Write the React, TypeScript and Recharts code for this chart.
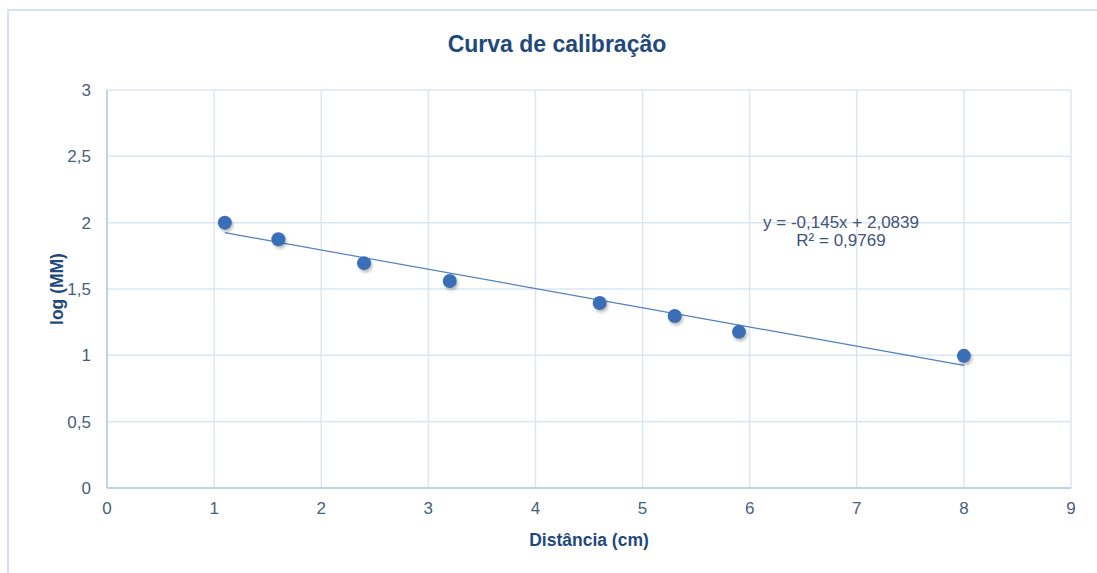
import React from 'react';
import {
  ScatterChart,
  Scatter,
  XAxis,
  YAxis,
  CartesianGrid,
  Label,
} from 'recharts';

const distances = [1.1, 1.6, 2.4, 3.2, 4.6, 5.3, 5.9, 8.0];
const logMM = [2.0, 1.875, 1.695, 1.56, 1.395, 1.296, 1.177, 0.996];

// trendline from the equation shown on the chart: y = -0,145x + 2,0839
const trendSlope = -0.145;
const trendIntercept = 2.0839;
const trendX = [1.1, 8.0];

const xTicks = [0, 1, 2, 3, 4, 5, 6, 7, 8, 9];
const yTicks = [0, 0.5, 1, 1.5, 2, 2.5, 3];

const equationText = 'y = -0,145x + 2,0839';
const r2Text = 'R² = 0,9769';

const points = distances.map((x, i) => ({ x, y: logMM[i] }));
const trend = trendX.map((x) => ({ x, y: trendSlope * x + trendIntercept }));

const font = '"Liberation Sans", Arial, sans-serif';
const tickStyle = { fill: '#4a5d7e', fontSize: 17, fontFamily: font };
const comma = (v: number) => String(v).replace('.', ',');

const Dot = (props: any) => {
  const { cx, cy } = props;
  if (cx == null || cy == null) return null;
  return (
    <g>
      <circle cx={cx + 1.5} cy={cy + 2.5} r={7} fill="#000" opacity={0.25} filter="url(#dotShadow)" />
      <circle cx={cx} cy={cy} r={7} fill="#3a6fb7" />
    </g>
  );
};

export default function App() {
  return (
    <div
      style={{
        position: 'absolute',
        left: 0,
        top: 0,
        width: 1097,
        height: 573,
        overflow: 'hidden',
        background: '#fff',
        fontFamily: font,
      }}
    >
      <div
        style={{
          position: 'absolute',
          left: 7,
          top: 9,
          width: 1200,
          height: 700,
          border: '2px solid #d3e1f3',
        }}
      />
      <div
        style={{
          position: 'absolute',
          left: 0,
          width: 1114,
          top: 31,
          textAlign: 'center',
          fontSize: 23,
          fontWeight: 'bold',
          color: '#1f497d',
        }}
      >
        Curva de calibração
      </div>
      <div style={{ position: 'absolute', left: 0, top: 0 }}>
        <ScatterChart
          width={1097}
          height={573}
          margin={{ top: 90, right: 26, bottom: 25, left: 47 }}
        >
          <defs>
            <filter id="dotShadow" x="-50%" y="-50%" width="200%" height="200%">
              <feGaussianBlur stdDeviation="1.8" />
            </filter>
          </defs>
          <CartesianGrid stroke="#dbe6f4" strokeWidth={1.5} />
          <XAxis
            type="number"
            dataKey="x"
            domain={[0, 9]}
            ticks={xTicks}
            interval={0}
            tickFormatter={comma}
            tick={tickStyle}
            tickLine={false}
            tickSize={0}
            tickMargin={14}
            axisLine={{ stroke: '#b3cae8', strokeWidth: 1.5 }}
            height={60}
          >
            <Label
              value="Distância (cm)"
              position="insideBottom"
              offset={2}
              style={{ fill: '#1f497d', fontSize: 17.5, fontWeight: 'bold', fontFamily: font }}
            />
          </XAxis>
          <YAxis
            type="number"
            dataKey="y"
            domain={[0, 3]}
            ticks={yTicks}
            interval={0}
            tickFormatter={comma}
            tick={tickStyle}
            tickLine={false}
            tickSize={0}
            tickMargin={16}
            axisLine={{ stroke: '#b3cae8', strokeWidth: 1.5 }}
            width={60}
          >
            <Label
              value="log (MM)"
              angle={-90}
              position="insideLeft"
              offset={10}
              style={{
                fill: '#1f497d',
                fontSize: 17.5,
                fontWeight: 'bold',
                fontFamily: font,
                textAnchor: 'middle',
              }}
            />
          </YAxis>
          <Scatter
            data={trend}
            line={{ stroke: '#4f81bd', strokeWidth: 1.2 }}
            shape={() => <g />}
            isAnimationActive={false}
          />
          <Scatter data={points} shape={Dot} isAnimationActive={false} />
        </ScatterChart>
      </div>
      <div
        style={{
          position: 'absolute',
          left: 741,
          width: 200,
          top: 214,
          textAlign: 'center',
          fontSize: 17,
          lineHeight: '18px',
          color: '#3f5478',
        }}
      >
        <div>{equationText}</div>
        <div>{r2Text}</div>
      </div>
    </div>
  );
}
